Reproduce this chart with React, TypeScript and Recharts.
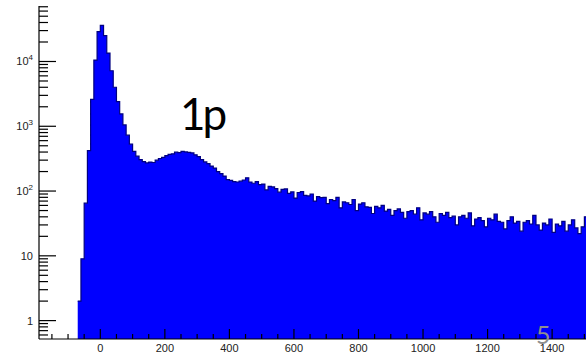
import { AreaChart, Area, XAxis, YAxis } from 'recharts';

// histogram: 10-unit bins, first bin starts at -70
const BIN_START = -70;
const BIN_WIDTH = 10;

const counts = [
  2, 9, 65, 420, 2600, 10500, 29000, 36000, 25000, 13500,
  7200, 4000, 2400, 1550, 1050, 730, 530, 410, 345, 305,
  285, 272, 280, 276, 300, 318, 330, 352, 368, 376,
  398, 392, 410, 402, 395, 388, 362, 340, 305, 282,
  265, 243, 226, 200, 186, 170, 150, 146, 140, 138,
  142, 148, 160, 138, 132, 140, 126, 128, 104, 118,
  116, 109, 96, 106, 108, 92, 97, 78, 95, 98,
  86, 84, 90, 70, 82, 79, 80, 64, 74, 71,
  80, 55, 68, 66, 62, 74, 50, 63, 66, 57,
  56, 45, 58, 55, 60, 49, 52, 42, 50, 53,
  47, 38, 48, 50, 44, 55, 36, 46, 44, 48,
  40, 33, 45, 42, 47, 39, 41, 30, 40, 42,
  38, 46, 29, 37, 39, 35, 28, 38, 36, 44,
  34, 33, 26, 35, 40, 32, 34, 24, 33, 35,
  31, 42, 30, 25, 32, 30, 37, 23, 31, 29,
  34, 24, 30, 36, 27, 22, 28, 40,
];

const xMajorTicks = [0, 200, 400, 600, 800, 1000, 1200, 1400];
const xTicks = [
  -150, -100, -50, 0, 50, 100, 150, 200, 250, 300, 350, 400, 450, 500, 550,
  600, 650, 700, 750, 800, 850, 900, 950, 1000, 1050, 1100, 1150, 1200,
  1250, 1300, 1350, 1400, 1450, 1500,
];
const yDecades = [1, 10, 100, 1000, 10000];
const yTicks = [
  0.6, 0.7, 0.8, 0.9,
  1, 2, 3, 4, 5, 6, 7, 8, 9,
  10, 20, 30, 40, 50, 60, 70, 80, 90,
  100, 200, 300, 400, 500, 600, 700, 800, 900,
  1000, 2000, 3000, 4000, 5000, 6000, 7000, 8000, 9000,
  10000, 20000, 30000, 40000, 50000, 60000, 70000,
];

const data = counts.map((c, i) => ({ x: BIN_START + i * BIN_WIDTH, count: c }));
// closing edge of the last bin
data.push({ x: BIN_START + counts.length * BIN_WIDTH, count: counts[counts.length - 1] });

const labelFont = { fontFamily: '"Liberation Sans", Arial, sans-serif', fontSize: 11, fill: '#222' };

const XTick = (props: any) => {
  const { x, y, payload } = props;
  const major = xMajorTicks.includes(payload.value);
  return (
    <g>
      <line x1={x} x2={x} y1={y} y2={y - (major ? 10 : 5)} stroke="#000" strokeWidth={1.2} />
      {major && (
        <text x={x} y={y + 13} textAnchor="middle" {...labelFont}>
          {payload.value}
        </text>
      )}
    </g>
  );
};

const YTick = (props: any) => {
  const { x, y, payload } = props;
  const v = payload.value;
  const major = yDecades.includes(v);
  const exp = Math.round(Math.log10(v));
  return (
    <g>
      <line x1={x} x2={x + (major ? 17 : 9)} y1={y} y2={y} stroke="#000" strokeWidth={1.2} />
      {major && (
        <text x={x - 6} y={y + 4} textAnchor="end" {...labelFont}>
          {exp < 2 ? String(v) : '10'}
          {exp >= 2 && (
            <tspan dy={-5} fontSize={8}>
              {exp}
            </tspan>
          )}
        </text>
      )}
    </g>
  );
};

export default function App() {
  return (
    <div style={{ position: 'absolute', left: 0, top: 0, width: 586, height: 355, overflow: 'hidden', background: '#fff' }}>
      <AreaChart width={586} height={355} data={data} margin={{ top: 6, right: 0, bottom: 0, left: 0 }}>
        <Area
          type="stepAfter"
          dataKey="count"
          fill="#0000ff"
          fillOpacity={1}
          stroke="#000080"
          strokeWidth={1.2}
          dot={false}
          activeDot={false}
          isAnimationActive={false}
        />
        <XAxis
          dataKey="x"
          type="number"
          domain={[-190, 1505]}
          allowDataOverflow
          ticks={xTicks}
          interval={0}
          tick={<XTick />}
          tickLine={false}
          tickSize={0}
          tickMargin={0}
          height={16}
          axisLine={{ stroke: '#000', strokeWidth: 1.2 }}
        />
        <XAxis xAxisId="top" orientation="top" dataKey="x" type="number" domain={[-190, 1505]} height={0} tick={false} tickLine={false} axisLine={{ stroke: '#666', strokeWidth: 2 }} />
        <YAxis
          scale="log"
          domain={[0.52, 71900]}
          allowDataOverflow
          ticks={yTicks}
          interval={0}
          tick={<YTick />}
          tickLine={false}
          tickSize={0}
          tickMargin={0}
          width={39}
          axisLine={{ stroke: '#000', strokeWidth: 1.2 }}
        />
      </AreaChart>
      <div style={{ position: 'absolute', left: 180, top: 83, fontFamily: 'Lato, sans-serif', fontSize: 44, letterSpacing: -3, lineHeight: '60px', color: '#000' }}>1p</div>
      <div style={{ position: 'absolute', left: 536, top: 319, fontFamily: 'Lato, sans-serif', fontSize: 25, lineHeight: '30px', color: '#8f8f8f' }}>5</div>
    </div>
  );
}
